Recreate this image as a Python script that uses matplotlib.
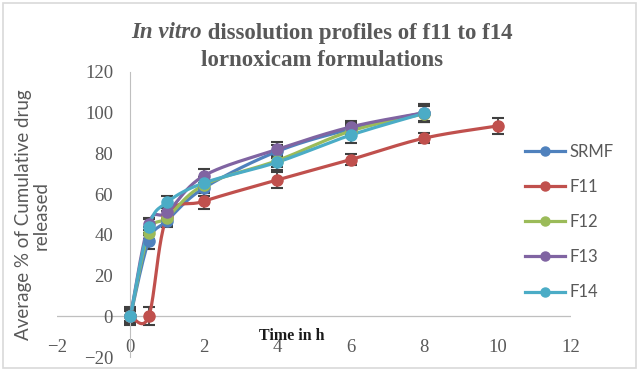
import numpy as np
import matplotlib
matplotlib.use("Agg")
import matplotlib.pyplot as plt
from matplotlib.patches import Rectangle

# dados
tempo = [0, 0.5, 1, 2, 4, 6, 8]
tempo_f11 = [0, 0.5, 1, 2, 4, 6, 8, 10]

srmf = [0, 37, 47, 63, 81, 92, 100]
f11 = [0, 0, 49, 56.5, 67, 77, 87.5, 93.5]
f12 = [0, 41, 48.5, 64.5, 76.5, 91, 99.5]
f13 = [0, 45.5, 51, 69, 82, 93, 100]
f14 = [0, 44, 56, 65.5, 75.7, 89, 99.7]

err_srmf = [4.5, 4, 3, 4, 3, 3, 4]
err_f11 = [3.5, 4.5, 4, 4, 4, 2.5, 2.5, 4]
err_f12 = [4, 3, 3, 3, 3, 3, 4]
err_f13 = [3, 3, 3, 3.5, 3.5, 3, 4.5]
err_f14 = [2.5, 4, 3, 3, 4, 4, 4.5]

nomes = ["SRMF", "F11", "F12", "F13", "F14"]
cores = ["#4F81BD", "#C0504D", "#9BBB59", "#8064A2", "#4BACC6"]

xticks = [-2, 0, 2, 4, 6, 8, 10, 12]
yticks = [-20, 0, 20, 40, 60, 80, 100, 120]


# curva suave igual ao "smoothed line" do Excel (bezier / catmull-rom)
def suavizar(x, y, n=25):
    p = np.column_stack([x, y]).astype(float)
    p = np.vstack([p[0], p, p[-1]])
    out = []
    for i in range(1, len(p) - 2):
        p0, p1, p2, p3 = p[i - 1], p[i], p[i + 1], p[i + 2]
        c1 = p1 + (p2 - p0) / 6
        c2 = p2 - (p3 - p1) / 6
        t = np.linspace(0, 1, n)[:, None]
        seg = (1 - t) ** 3 * p1 + 3 * (1 - t) ** 2 * t * c1 + 3 * (1 - t) * t ** 2 * c2 + t ** 3 * p2
        out.append(seg if i == 1 else seg[1:])
    out = np.vstack(out)
    return out[:, 0], out[:, 1]


fig = plt.figure(figsize=(6.39, 3.72), dpi=100)
ax = fig.add_axes([57 / 639, 15 / 372, 514 / 639, 285 / 372])

series = [
    (tempo, srmf, err_srmf),
    (tempo_f11, f11, err_f11),
    (tempo, f12, err_f12),
    (tempo, f13, err_f13),
    (tempo, f14, err_f14),
]

for (x, y, e), nome, cor in zip(series, nomes, cores):
    ax.errorbar(x, y, yerr=e, fmt="none", ecolor="#404040", elinewidth=1.3,
                capsize=4, capthick=1.5, zorder=2)
    xs, ys = suavizar(x, y)
    ax.plot(xs, ys, color=cor, lw=2.3, zorder=3)
    ax.plot(x, y, "o", color=cor, ms=8, zorder=4)
    ax.plot([], [], "-o", color=cor, lw=2.3, ms=6.5, label=nome)

ax.set_xlim(-2, 12)
ax.set_ylim(-20, 120)
ax.set_xticks(xticks)
ax.set_yticks(yticks)

for s in ["top", "right", "bottom"]:
    ax.spines[s].set_visible(False)
ax.spines["left"].set_position(("data", 0))
ax.spines["left"].set_color("#BFBFBF")
ax.axhline(0, color="#BFBFBF", lw=0.9, zorder=1)

ax.tick_params(axis="y", length=0, pad=12.5, labelsize=13.5, labelcolor="#595959")
ax.tick_params(axis="x", length=0, pad=-12.6, labelsize=13.5, labelcolor="#595959")
for lb in ax.get_xticklabels() + ax.get_yticklabels():
    lb.set_fontfamily("Liberation Serif")

ax.text(4.4, -9.5, "Time in h", family="Liberation Serif", fontweight="bold",
        fontsize=11.5, color="#1a1a1a", ha="center", va="center")

fig.text(32 / 639, 1 - 215 / 372, "Average % of Cumulative drug\nreleased",
         rotation=90, ha="center", va="center", family="Lato", fontsize=13.5,
         color="#595959", linespacing=1.05)

# titulo com "In vitro" em italico
fig.canvas.draw()
r = fig.canvas.get_renderer()
t1 = fig.text(0, 1 - 33 / 372, "In vitro", family="Liberation Serif", fontstyle="italic",
              fontweight="bold", fontsize=16.5, color="#595959", va="center")
t2 = fig.text(0, 1 - 33 / 372, " dissolution profiles of f11 to f14", family="Liberation Serif",
              fontweight="bold", fontsize=16.5, color="#595959", va="center")
w1 = t1.get_window_extent(r).width
w2 = t2.get_window_extent(r).width
x0 = 322 - (w1 + w2) / 2
t1.set_x(x0 / 639)
t2.set_x((x0 + w1) / 639)
fig.text(322 / 639, 1 - 60 / 372, "lornoxicam formulations", family="Liberation Serif",
         fontweight="bold", fontsize=16.5, color="#595959", ha="center", va="center")

fig.legend(loc="center left", bbox_to_anchor=(525 / 639, 1 - 222 / 372), frameon=False,
           prop={"family": "Lato", "size": 12}, labelcolor="#595959",
           handlelength=2.4, handletextpad=0.25, labelspacing=1.15,
           borderpad=0, borderaxespad=0)

fig.add_artist(Rectangle((3 / 639, 4 / 372), 633 / 639, 365 / 372, transform=fig.transFigure,
                         fill=False, edgecolor="#D9D9D9", lw=1.2))

fig.savefig("out.png", dpi=100)
